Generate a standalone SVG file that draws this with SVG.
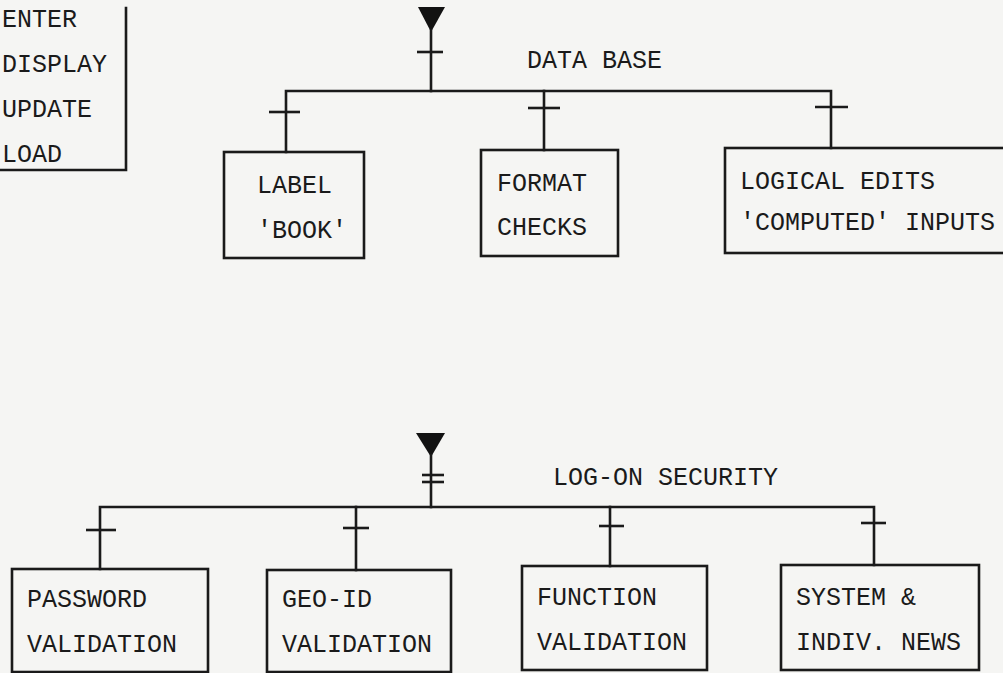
<svg xmlns="http://www.w3.org/2000/svg" width="1003" height="673" viewBox="0 0 1003 673">
  <style>
    .bg { fill: #f5f5f3; }
    .box { fill: none; stroke: #1a1a1a; stroke-width: 2.6; }
    .ln { fill: none; stroke: #1a1a1a; stroke-width: 2.6; stroke-linecap: square; }
    .tick { fill: none; stroke: #1a1a1a; stroke-width: 2.6; }
    .tri { fill: #121212; }
    text { font-family: "Liberation Mono", "Courier New", monospace; font-size: 25px; fill: #1a1a1a; }
  </style>

  <rect class="bg" x="0" y="0" width="1003" height="673"/>

  <!-- transaction list (box runs off the left edge) -->
  <g id="transactions">
    <path class="ln" d="M126,8 V170 H-2"/>
    <text x="2" y="27">ENTER</text>
    <text x="2" y="72">DISPLAY</text>
    <text x="2" y="117">UPDATE</text>
    <text x="2" y="162">LOAD</text>
  </g>

  <!-- upper tree: data base -->
  <g id="data-base">
    <polygon class="tri" points="418,7 445,7 431,32"/>
    <text x="527" y="68">DATA BASE</text>
  </g>

  <g id="label-book">
    <rect class="box" x="224" y="152" width="140" height="106"/>
    <text x="257" y="193">LABEL</text>
    <text x="257" y="238">'BOOK'</text>
  </g>

  <g id="format-checks">
    <rect class="box" x="481" y="150" width="137" height="106"/>
    <text x="497" y="191">FORMAT</text>
    <text x="497" y="235">CHECKS</text>
  </g>

  <g id="logical-edits">
    <rect class="box" x="725" y="148" width="290" height="105"/>
    <text x="740" y="189">LOGICAL EDITS</text>
    <text x="740" y="230">'COMPUTED' INPUTS</text>
  </g>

  <!-- lower tree: log-on security -->
  <g id="log-on-security">
    <polygon class="tri" points="416,433 445,433 431,457"/>
    <text x="553" y="485">LOG-ON SECURITY</text>
  </g>

  <g id="password-validation">
    <rect class="box" x="12" y="569" width="196" height="103"/>
    <text x="27" y="607">PASSWORD</text>
    <text x="27" y="652">VALIDATION</text>
  </g>

  <g id="geo-id-validation">
    <rect class="box" x="267" y="570" width="184" height="102"/>
    <text x="282" y="607">GEO-ID</text>
    <text x="282" y="652">VALIDATION</text>
  </g>

  <g id="function-validation">
    <rect class="box" x="522" y="566" width="185" height="104"/>
    <text x="537" y="605">FUNCTION</text>
    <text x="537" y="650">VALIDATION</text>
  </g>

  <g id="system-news">
    <rect class="box" x="781" y="565" width="198" height="105"/>
    <text x="796" y="605">SYSTEM &amp;</text>
    <text x="796" y="650">INDIV. NEWS</text>
  </g>

  <!-- connectors with one-bar / two-bar marks -->
  <g id="connectors">
    <!-- upper -->
    <path class="ln" d="M431,30 V91"/>
    <path class="tick" d="M417,52 H443"/>
    <path class="ln" d="M286,152 V91 H831 V148"/>
    <path class="ln" d="M544,91 V150"/>
    <path class="tick" d="M269,112 H300"/>
    <path class="tick" d="M528,108 H560"/>
    <path class="tick" d="M815,107 H848"/>

    <!-- lower -->
    <path class="ln" d="M431,455 V507"/>
    <path class="tick" d="M422,475 H444"/>
    <path class="tick" d="M422,482 H444"/>
    <path class="ln" d="M100,569 V507 H874 V565"/>
    <path class="ln" d="M356,507 V570"/>
    <path class="ln" d="M610,507 V566"/>
    <path class="tick" d="M86,530 H116"/>
    <path class="tick" d="M343,528 H369"/>
    <path class="tick" d="M599,526 H624"/>
    <path class="tick" d="M861,523 H886"/>
  </g>
</svg>
